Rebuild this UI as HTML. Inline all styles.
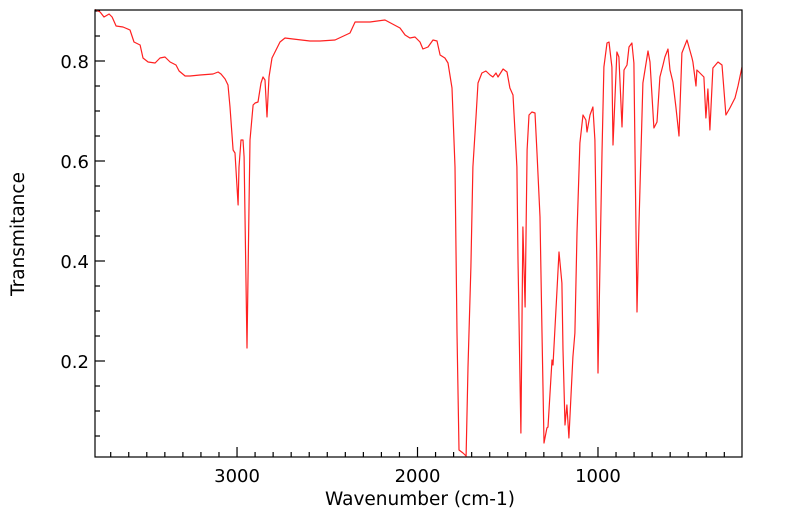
<!DOCTYPE html>
<html><head><meta charset="utf-8"><style>
body{margin:0;background:#fff;}
svg{display:block;font-family:"DejaVu Sans",sans-serif;}
</style></head><body>
<svg id="chart" width="799" height="516">
<g id="ticks"></g>
<path id="spectrum" fill="none" stroke="#ff2020" stroke-width="1.2" stroke-linejoin="round"></path>
<rect x="95" y="10" width="647" height="447" fill="none" stroke="#000" stroke-width="1.2"></rect>
<text x="420" y="505" font-size="18.5" text-anchor="middle">Wavenumber (cm-1)</text>
<text transform="translate(24,234) rotate(-90)" font-size="18.5" text-anchor="middle">Transmitance</text>
</svg>
<script>
const wavenumbers=[3787,3759,3737,3709,3692,3670,3632,3593,3571,3537,3521,3493,3454,3427,3399,3371,3338,3321,3288,3260,3205,3133,3105,3089,3066,3050,3039,3022,3011,2994,2989,2978,2967,2961,2945,2933,2928,2911,2900,2884,2867,2856,2845,2834,2823,2806,2784,2762,2734,2690,2596,2540,2457,2374,2346,2263,2180,2097,2069,2042,2014,1986,1970,1942,1914,1892,1875,1848,1831,1809,1792,1781,1770,1748,1731,1720,1704,1693,1676,1665,1643,1621,1598,1582,1565,1554,1526,1504,1488,1471,1449,1443,1427,1416,1404,1393,1382,1366,1349,1338,1321,1310,1299,1283,1277,1255,1249,1227,1216,1200,1194,1183,1172,1161,1139,1128,1116,1100,1083,1067,1061,1044,1028,1017,1006,1000,978,967,950,939,923,917,895,884,867,856,839,828,812,801,784,773,751,723,712,690,673,657,640,629,612,601,585,568,551,535,507,479,474,457,452,424,413,402,391,380,363,335,313,291,269,241,224,202];
const transmittance=[.903,.898,.888,.894,.888,.870,.868,.862,.838,.832,.806,.798,.796,.806,.808,.798,.792,.780,.770,.770,.772,.774,.778,.774,.764,.752,.708,.622,.616,.512,.588,.642,.642,.608,.226,.522,.642,.712,.716,.718,.756,.768,.762,.688,.768,.806,.822,.838,.846,.844,.840,.840,.842,.856,.878,.878,.882,.866,.852,.846,.848,.838,.824,.828,.842,.840,.812,.806,.796,.746,.588,.256,.022,.016,.010,.188,.388,.588,.688,.756,.776,.780,.772,.768,.776,.768,.784,.778,.746,.732,.588,.402,.056,.468,.308,.622,.692,.698,.696,.616,.488,.256,.036,.066,.068,.202,.192,.342,.418,.356,.222,.072,.112,.046,.208,.256,.456,.636,.692,.682,.658,.692,.708,.642,.388,.176,.616,.788,.836,.838,.788,.632,.818,.808,.668,.782,.792,.828,.836,.796,.298,.468,.756,.820,.798,.666,.678,.768,.792,.808,.824,.782,.758,.708,.650,.816,.842,.806,.798,.750,.782,.772,.768,.686,.744,.662,.786,.798,.792,.692,.706,.726,.750,.788];
const xTickLabels=[3000,2000,1000];
const yTickLabels=["0.2","0.4","0.6","0.8"];
const X0=95,X1=742,Y0=10,Y1=457,W0=3787,W1=202,T0=0.902,T1=0.008;
function xs(w){return X0+(W0-w)/(W0-W1)*(X1-X0);}
function ys(t){return Y0+(T0-t)/(T0-T1)*(Y1-Y0);}
const NS="http://www.w3.org/2000/svg";
let d="";
for(let i=0;i<wavenumbers.length;i++){d+=(i?"L":"M")+xs(wavenumbers[i]).toFixed(1)+","+ys(transmittance[i]).toFixed(1);}
document.getElementById("spectrum").setAttribute("d",d);
const g=document.getElementById("ticks");
function line(x1,y1,x2,y2,name){const l=document.createElementNS(NS,"line");
l.setAttribute("x1",x1);l.setAttribute("y1",y1);l.setAttribute("x2",x2);l.setAttribute("y2",y2);
l.setAttribute("stroke","#000");l.setAttribute("stroke-width","1.2");


g.appendChild(l);}
function text(x,y,s,anchor,name){const t=document.createElementNS(NS,"text");
t.setAttribute("x",x);t.setAttribute("y",y);t.setAttribute("font-size","18");t.setAttribute("text-anchor",anchor);t.textContent=s;


g.appendChild(t);}
for(let w=300;w<=3700;w+=100){const x=xs(w);const major=w%1000===0;line(x,Y1,x,Y1-(major?10:5),major?"x-major-tick":"x-minor-tick");}
xTickLabels.forEach(w=>text(xs(w),482,String(w),"middle","x-tick-label"));
for(let k=1;k<=18;k++){const t=k*0.05;const y=ys(t);if(y<Y0||y>Y1)continue;const major=k%4===0;line(X0,y,X0+(major?10:5),y,major?"y-major-tick":"y-minor-tick");}
yTickLabels.forEach(s=>text(89,ys(parseFloat(s))+7,s,"end","y-tick-label"));
</script>
</body></html>
